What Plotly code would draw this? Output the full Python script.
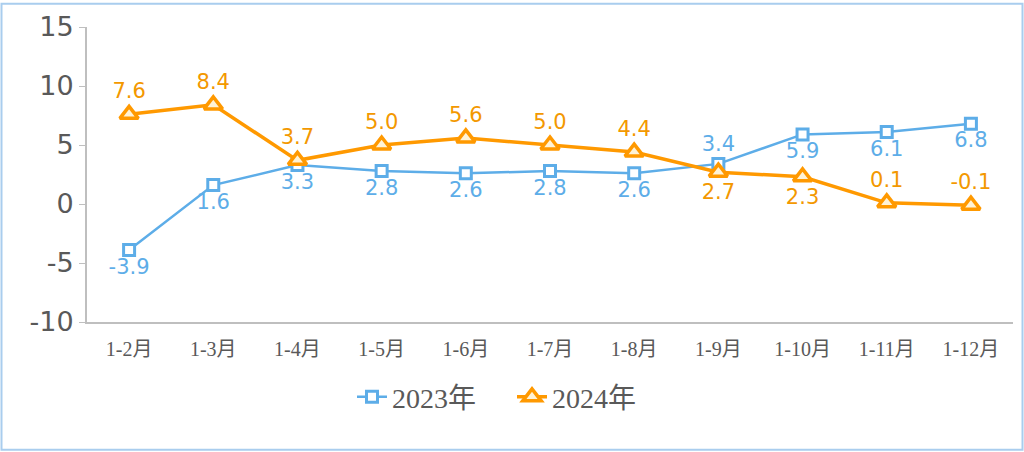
import plotly.graph_objects as go

categories = ["1-2月", "1-3月", "1-4月", "1-5月", "1-6月", "1-7月", "1-8月", "1-9月", "1-10月", "1-11月", "1-12月"]
values_2023 = [-3.9, 1.6, 3.3, 2.8, 2.6, 2.8, 2.6, 3.4, 5.9, 6.1, 6.8]
values_2024 = [7.6, 8.4, 3.7, 5.0, 5.6, 5.0, 4.4, 2.7, 2.3, 0.1, -0.1]
y_ticks = [-10, -5, 0, 5, 10, 15]
y_tick_labels = ["-10", "-5", "0", "5", "10", "15"]

pos_2023 = ["bottom center"] * 7 + ["top center"] + ["bottom center"] * 3
pos_2024 = ["top center"] * 7 + ["bottom center"] * 2 + ["top center"] * 2

blue = "#5DADE8"
orange = "#FF9900"
label_font = "DejaVu Sans, Verdana, sans-serif"
serif_font = "Liberation Serif, Noto Sans CJK SC, serif"

fig = go.Figure()
fig.add_trace(go.Scatter(
    x=categories, y=values_2023, name="2023年", mode="lines+markers+text",
    line=dict(color=blue, width=2.5),
    marker=dict(symbol="square", size=11, color="white", line=dict(color=blue, width=3)),
    text=[f"{v:.1f}" for v in values_2023], textposition=pos_2023,
    textfont=dict(family=label_font, size=21, color=blue),
))
fig.add_trace(go.Scatter(
    x=categories, y=values_2024, name="2024年", mode="lines+markers+text",
    line=dict(color=orange, width=3.5),
    marker=dict(symbol="triangle-up", size=16, color="#FFF3D6", line=dict(color=orange, width=3.5)),
    text=[f"{v:.1f}" for v in values_2024], textposition=pos_2024,
    textfont=dict(family=label_font, size=21, color="#F39800"),
))

fig.update_layout(
    width=1024, height=452,
    margin=dict(l=87, r=11, t=25, b=130),
    paper_bgcolor="white", plot_bgcolor="white",
    showlegend=True,
    legend=dict(orientation="h", x=(512 - 87) / 926, xanchor="center", y=-0.17, yanchor="top",
                entrywidth=115, entrywidthmode="pixels",
                font=dict(family=serif_font, size=28, color="#595959")),
    xaxis=dict(
        type="category", range=[-0.5, 10.5], showgrid=False,
        showline=True, linecolor="#BFBFBF", linewidth=2, ticks="",
        ticklabelstandoff=8,
        tickfont=dict(family=serif_font, size=20, color="#595959"),
    ),
    yaxis=dict(
        range=[-10, 15], tickvals=y_ticks, ticktext=y_tick_labels,
        showgrid=False, zeroline=False,
        showline=True, linecolor="#BFBFBF", linewidth=2,
        ticks="outside", ticklen=6, tickcolor="#BFBFBF", tickwidth=1,
        tickfont=dict(family=label_font, size=27, color="#595959"),
    ),
    shapes=[dict(type="rect", xref="paper", yref="paper",
                 x0=(1.5 - 87) / 926, x1=(1022.5 - 87) / 926,
                 y0=(322 - 450.5) / 297, y1=(322 - 1.5) / 297,
                 line=dict(color="#A9CDEE", width=2))],
)
fig.write_html("out.html", config={"displayModeBar": False},
               post_script="document.body.style.margin='0';")
